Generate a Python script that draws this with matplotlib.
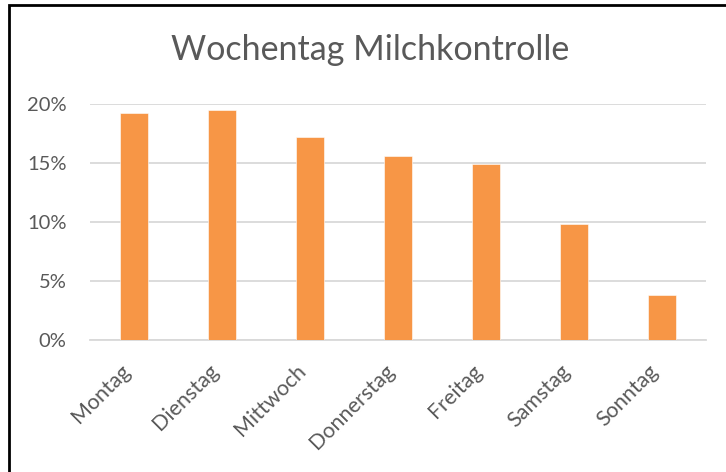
import matplotlib
matplotlib.use("Agg")
import matplotlib.pyplot as plt
from matplotlib.patches import Rectangle
from matplotlib.ticker import FuncFormatter

plt.rcParams["font.family"] = ["Lato", "DejaVu Sans"]

# data
days = ["Montag", "Dienstag", "Mittwoch", "Donnerstag", "Freitag", "Samstag", "Sonntag"]
shares = [0.192, 0.195, 0.172, 0.156, 0.149, 0.098, 0.038]
yticks = [0, 0.05, 0.10, 0.15, 0.20]

bar_color = "#F79646"
text_color = "#595959"
grid_color = "#D9D9D9"

W, H = 726, 472
fig = plt.figure(figsize=(W / 100, H / 100), dpi=100)
ax = fig.add_axes([90 / W, 1 - 340 / H, (706 - 90) / W, 236 / H])

x = range(len(days))
ax.bar(x, shares, width=0.313, color=bar_color, edgecolor="white", linewidth=0.4, zorder=3)

ax.set_xlim(-0.5, len(days) - 0.5)
ax.set_ylim(0, 0.2)
ax.set_yticks(yticks)
ax.yaxis.set_major_formatter(FuncFormatter(lambda v, p: f"{v*100:.0f}%"))
ax.grid(axis="y", color=grid_color, linewidth=1.3, zorder=0)

for s in ["top", "right", "left"]:
    ax.spines[s].set_visible(False)
ax.spines["bottom"].set_color(grid_color)
ax.spines["bottom"].set_linewidth(1.3)

ax.set_xticks(list(x))
ax.set_xticklabels(days, rotation=45, ha="right", rotation_mode="default")
ax.tick_params(axis="both", length=0, colors=text_color)
ax.tick_params(axis="y", pad=17, labelsize=14.5)
ax.tick_params(axis="x", pad=15, labelsize=15.5)

fig.text(370 / W, 1 - 50 / H, "Wochentag Milchkontrolle", ha="center", va="center",
         fontsize=24.5, color=text_color)

# frame around the chart (cropped screenshot: only left and top edges visible)
fig.add_artist(Rectangle((9 / W, -0.1), 1.2, 1 - 5 / H + 0.1, transform=fig.transFigure,
                         fill=False, edgecolor="black", linewidth=2))

fig.savefig("out.png", dpi=100)
